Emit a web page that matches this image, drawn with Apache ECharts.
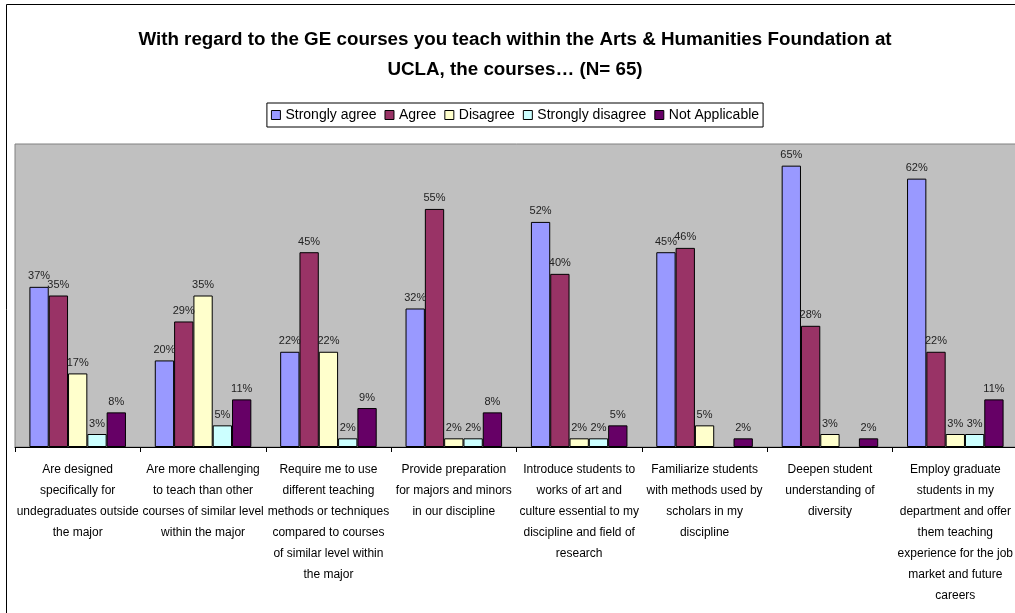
<!DOCTYPE html>
<html>
<head>
<meta charset="utf-8">
<script src="https://cdn.jsdelivr.net/npm/echarts@6/dist/echarts.min.js"></script>
<style>
  html, body { margin: 0; padding: 0; overflow: hidden; background: #fff; }
  #chart { width: 1030px; height: 613px; }
</style>
</head>
<body>
<div id="chart"></div>
<script>
// chart data
const categories = [
  'Are designed\nspecifically for\nundegraduates outside\nthe major',
  'Are more challenging\nto teach than other\ncourses of similar level\nwithin the major',
  'Require me to use\ndifferent teaching\nmethods or techniques\ncompared to courses\nof similar level within\nthe major',
  'Provide preparation\nfor majors and minors\nin our discipline',
  'Introduce students to\nworks of art and\nculture essential to my\ndiscipline and field of\nresearch',
  'Familiarize students\nwith methods used by\nscholars in my\ndiscipline',
  'Deepen student\nunderstanding of\ndiversity',
  'Employ graduate\nstudents in my\ndepartment and offer\nthem teaching\nexperience for the job\nmarket and future\ncareers'
];
const stronglyAgree    = [37, 20, 22, 32, 52, 45, 65, 62];
const agree            = [35, 29, 45, 55, 40, 46, 28, 22];
const disagree         = [17, 35, 22, 2, 2, 5, 3, 3];
const stronglyDisagree = [3, 5, 2, 2, 2, null, null, 3];
const notApplicable    = [8, 11, 9, 8, 5, 2, 2, 11];

const seriesNames = ['Strongly agree', 'Agree', 'Disagree', 'Strongly disagree', 'Not Applicable'];
const seriesData = [stronglyAgree, agree, disagree, stronglyDisagree, notApplicable];
const colors = ['#9999FF', '#993366', '#FFFFCC', '#CCFFFF', '#660066'];

const font = "'Liberation Sans', Arial, sans-serif";

const chart = echarts.init(document.getElementById('chart'));

chart.setOption({
  animation: false,
  backgroundColor: '#fff',
  textStyle: { fontFamily: font },
  title: {
    text: 'With regard to the GE courses you teach within the Arts & Humanities Foundation at\nUCLA, the courses\u2026 (N= 65)',
    left: 'center',
    top: 25,
    padding: 0,
    textStyle: { fontFamily: font, fontSize: 18.8, fontWeight: 'bold', color: '#000', lineHeight: 30 }
  },
  legend: {
    top: 103,
    left: 'center',
    padding: [4, 4],
    itemGap: 8,
    itemWidth: 9,
    itemHeight: 9,
    borderColor: '#000',
    borderWidth: 1,
    icon: 'rect',
    itemStyle: { borderColor: '#000', borderWidth: 1 },
    textStyle: { fontFamily: font, fontSize: 14, color: '#000', lineHeight: 16 },
    data: seriesNames
  },
  graphic: [{
    type: 'rect',
    silent: true,
    shape: { x: 6.5, y: 4.5, width: 1017, height: 800 },
    style: { fill: 'none', stroke: '#000', lineWidth: 1 }
  }],
  grid: {
    left: 15,
    right: 12,
    top: 144,
    bottom: 166,
    show: true,
    backgroundColor: '#C0C0C0',
    borderColor: '#808080',
    borderWidth: 1
  },
  xAxis: {
    type: 'category',
    data: categories,
    axisLine: { lineStyle: { color: '#000', width: 1 } },
    axisTick: { show: true, length: 5, lineStyle: { color: '#000' } },
    axisLabel: {
      interval: 0,
      margin: 12,
      fontFamily: font,
      fontSize: 12,
      lineHeight: 21,
      color: '#000',
      align: 'center'
    }
  },
  yAxis: {
    type: 'value',
    min: 0,
    max: 70,
    show: false,
    splitLine: { show: false }
  },
  series: seriesNames.map((name, i) => ({
    name: name,
    type: 'bar',
    data: seriesData[i],
    barGap: '0%',
    barCategoryGap: '23%',
    itemStyle: { color: colors[i], borderColor: '#000', borderWidth: 1 },
    label: {
      show: true,
      position: 'top',
      distance: 5,
      formatter: '{c}%',
      fontFamily: font,
      fontSize: 11,
      color: '#222'
    }
  }))
});
</script>
</body>
</html>
